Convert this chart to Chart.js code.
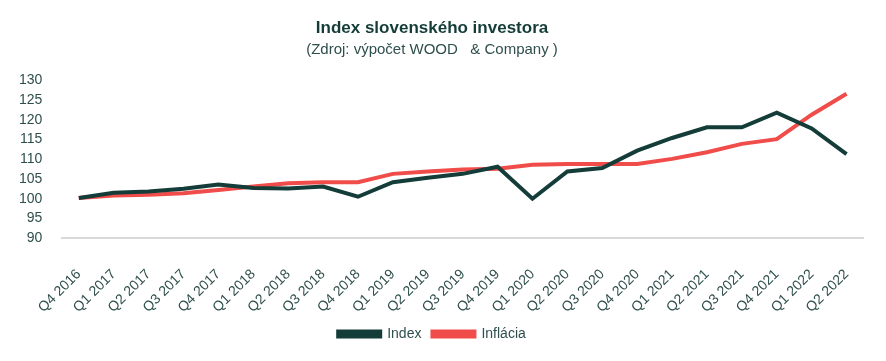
<!DOCTYPE html>
<html>
<head>
<meta charset="utf-8">
<script src="https://cdn.jsdelivr.net/npm/chart.js@4"></script>
<style>
  html, body { margin: 0; padding: 0; background: #fff; }
  #wrap { width: 886px; height: 361px; }
</style>
</head>
<body>
<div id="wrap"><canvas id="indexChart"></canvas></div>
<script>
// quarters on the x axis
const quarters = ['Q4 2016', 'Q1 2017', 'Q2 2017', 'Q3 2017', 'Q4 2017', 'Q1 2018', 'Q2 2018', 'Q3 2018',
    'Q4 2018', 'Q1 2019', 'Q2 2019', 'Q3 2019', 'Q4 2019', 'Q1 2020', 'Q2 2020', 'Q3 2020', 'Q4 2020',
    'Q1 2021', 'Q2 2021', 'Q3 2021', 'Q4 2021', 'Q1 2022', 'Q2 2022'];

// values
const indexValues = [100.2, 101.5, 101.8, 102.5, 103.6, 102.7, 102.6, 103.1, 100.5, 104.2, 105.3, 106.3,
    108.1, 100.0, 106.9, 107.8, 112.2, 115.4, 118.1, 118.1, 121.8, 117.8, 111.3];
const inflationValues = [100.2, 100.8, 101.0, 101.4, 102.2, 103.1, 103.9, 104.2, 104.2, 106.3, 106.9, 107.4,
    107.6, 108.6, 108.8, 108.8, 108.8, 110.1, 111.8, 113.9, 115.1, 121.3, 126.6];

const dark = '#143c39';
const red = '#ef4c4a';

const ctx = document.getElementById('indexChart').getContext('2d');
const indexChart = new Chart(ctx, {
    type: 'line',
    data: {
        labels: quarters,
        datasets: [{
            label: 'Index',
            data: indexValues,
            borderColor: dark,
            backgroundColor: dark,
            borderWidth: 4,
            pointRadius: 0,
            tension: 0
        }, {
            label: 'Inflácia',
            data: inflationValues,
            borderColor: red,
            backgroundColor: red,
            borderWidth: 4,
            pointRadius: 0,
            tension: 0
        }]
    },
    options: {
        responsive: true,
        maintainAspectRatio: false,
        animation: false,
        layout: { padding: { left: 0, right: 22, top: 16, bottom: 10 } },
        plugins: {
            title: {
                display: true,
                text: 'Index slovenského investora',
                color: dark,
                font: { family: 'Liberation Sans', size: 17, weight: 'bold' },
                padding: { top: 2, bottom: 2 }
            },
            subtitle: {
                display: true,
                text: '(Zdroj: výpočet WOOD   & Company )',
                color: '#2f4f4c',
                font: { family: 'Liberation Sans', size: 15 },
                padding: { bottom: 22 }
            },
            legend: {
                display: true,
                position: 'bottom',
                labels: {
                    color: '#2f4f4c',
                    font: { family: 'Liberation Sans', size: 14 },
                    boxWidth: 42,
                    boxHeight: 5,
                    padding: 11
                }
            },
            tooltip: { enabled: false }
        },
        scales: {
            x: {
                offset: true,
                grid: { display: false },
                border: { display: false },
                ticks: {
                    color: '#2f4f4c',
                    font: { family: 'Liberation Sans', size: 14 },
                    maxRotation: 45,
                    minRotation: 45,
                    autoSkip: false,
                    padding: 20
                },
                // padding is counted twice by the fit; drop the part below the labels
                afterFit: (scale) => { scale.height -= 20; }
            },
            y: {
                min: 90,
                max: 130,
                grid: {
                    drawTicks: false,
                    color: (c) => c.tick.value === 90 ? '#d9d9d9' : 'rgba(0,0,0,0)',
                    lineWidth: 2
                },
                border: { display: false },
                ticks: {
                    stepSize: 5,
                    autoSkip: false,
                    padding: 19,
                    color: '#2f4f4c',
                    font: { family: 'Liberation Sans', size: 14 }
                }
            }
        }
    }
});
</script>
</body>
</html>
